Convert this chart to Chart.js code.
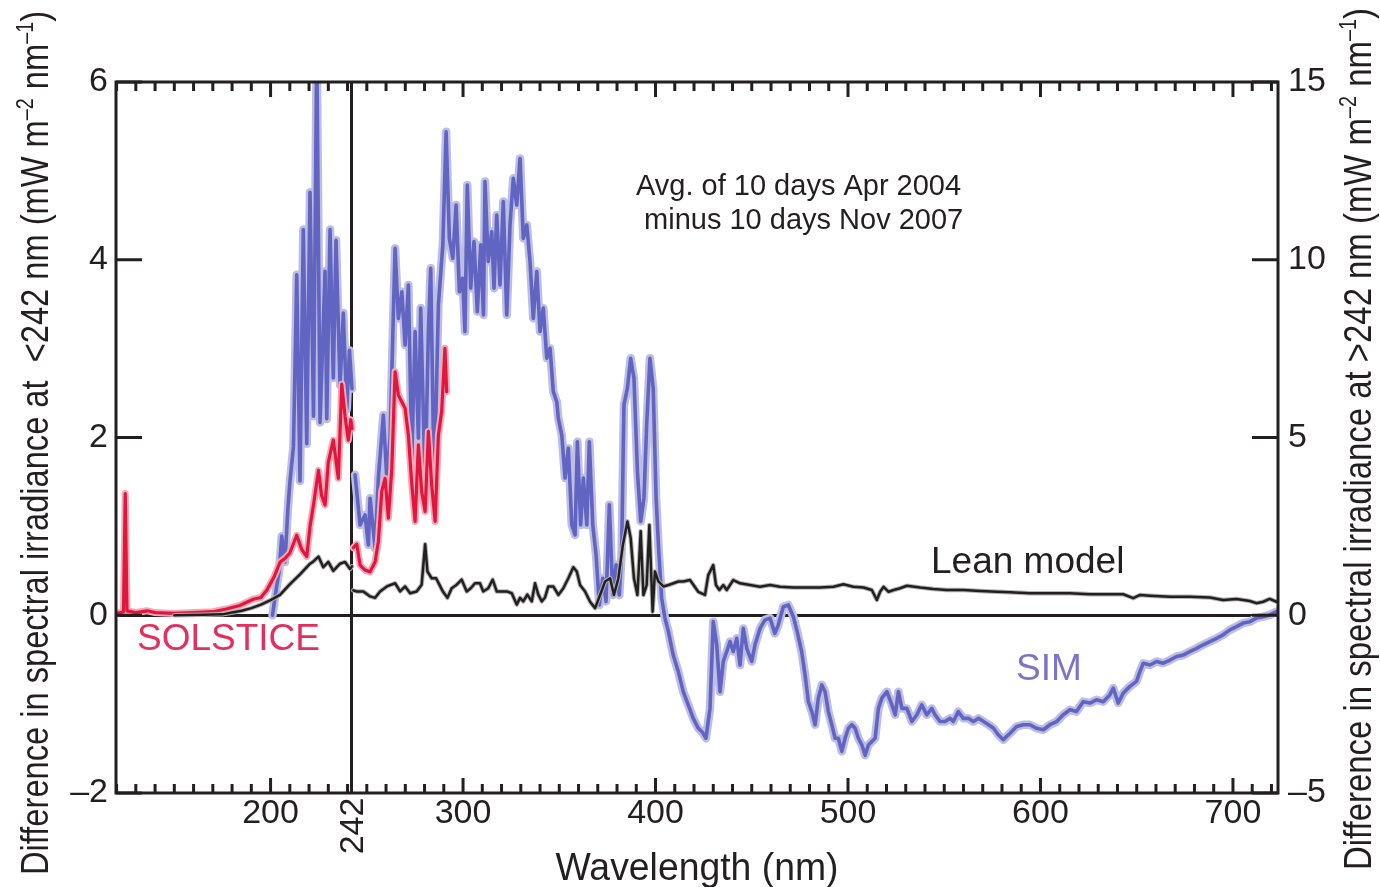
<!DOCTYPE html>
<html>
<head>
<meta charset="utf-8">
<script src="https://cdn.jsdelivr.net/npm/chart.js@4.4.1/dist/chart.umd.min.js"></script>
<style>
  html, body { margin: 0; padding: 0; background: #fff; }
  #wrap { width: 1380px; height: 887px; }
</style>
</head>
<body>
<div id="wrap"><canvas id="chart" width="1380" height="887"></canvas></div>
<script>
/* ============================================
   SORCE spectral irradiance difference, 2004 - 2007
   ============================================ */
const ink = '#231f20';
const FONT = '"Liberation Sans", Arial, Helvetica, sans-serif';

// axes
const xMin = 119.7, xMax = 723.4;
const splitNm = 242;
const xTickLabels = [200, 242, 300, 400, 500, 600, 700];
const yLeftTicks = [-2, 0, 2, 4, 6];
const yRightTicks = [-5, 0, 5, 10, 15];

// below 242 nm (left axis, mW m-2 nm-1)
const solLowNm  = [120, 123.6, 124.5, 125.4, 130, 136, 140, 150, 160, 170, 177, 184, 191, 195, 198, 202, 205, 207.5, 210, 213.6, 216.2, 218.8, 220.5, 222.3, 224.9, 226.5, 228.3, 230, 232.6, 235.2, 237, 238.7, 240.4, 241.7, 242.3];
const solLowVal = [0.02, 0.04, 1.37, 0.05, 0.03, 0.05, 0.03, 0.02, 0.03, 0.04, 0.07, 0.11, 0.18, 0.2, 0.28, 0.44, 0.6, 0.64, 0.7, 0.9, 0.74, 0.66, 1.0, 1.24, 1.63, 1.35, 1.24, 1.72, 1.97, 1.54, 2.6, 2.24, 1.97, 2.2, 2.1];

const simLowNm  = [201, 203, 204.5, 205.8, 207.5, 209, 210.1, 211.9, 213.6, 215.3, 217, 218.8, 220.5, 222.3, 224, 225.7, 227, 228.3, 229.2, 230.9, 232.6, 234, 236.1, 237.8, 239.6, 241, 242.3];
const simLowVal = [0, 0.3, 0.5, 0.89, 0.6, 1.2, 1.51, 1.9, 3.83, 1.51, 4.34, 1.93, 4.76, 2.24, 6.4, 2.17, 3.0, 3.87, 2.21, 4.34, 2.67, 4.22, 2.59, 3.4, 2.32, 2.98, 2.55];

const leanLowNm  = [150, 165, 175, 180, 185, 190, 195, 200, 204.9, 210.1, 215.3, 220.5, 222, 224.9, 227.4, 230, 232.6, 236.1, 238.7, 241.3, 242.3];
const leanLowVal = [0, 0.005, 0.01, 0.03, 0.05, 0.08, 0.12, 0.17, 0.23, 0.35, 0.46, 0.58, 0.6, 0.66, 0.54, 0.6, 0.5, 0.58, 0.6, 0.52, 0.55];

// above 242 nm (right axis, mW m-2 nm-1)
const solHighNm  = [243, 244.8, 246.5, 249.1, 251.7, 254.3, 256, 257.8, 259.5, 261.2, 263, 264.7, 266.4, 268.2, 269.9, 271.6, 273.4, 275.1, 276.8, 278.5, 280.3, 282, 283.7, 285.5, 287.2, 288.9, 290.6, 291.5];
const solHighVal = [1.9, 2.0, 1.41, 1.27, 1.22, 1.5, 2.07, 3.5, 3.85, 2.73, 4.13, 6.85, 6.2, 6.0, 5.82, 5.07, 3.67, 2.64, 4.79, 3.48, 2.92, 5.17, 3.67, 2.64, 5.07, 5.73, 7.51, 6.29];

const simHighNm = [243.9, 246.5, 249.1, 250.8, 251.7, 254.3, 256, 258.6, 260.4, 262.1, 264.7, 266.4, 268.2, 269.9, 271.6, 273.4, 275.1, 276.8, 278, 280.3,
  282, 283.2, 285, 287.2, 289.5, 291.2, 292.9, 294.7, 296.4, 298.1, 299.8, 301, 302.2, 304, 305.7, 307.4, 309.2, 310.6, 311.4, 313.1,
  314.9, 316.1, 317.5, 319.2, 320.9, 322.7, 324.4, 326.1, 327.9, 329.6, 331.3, 333.1, 334.8, 336.5, 338.3, 340, 341.7, 343.5, 345.2, 346.9,
  348.7, 349.5, 351.3, 353, 354.7, 356.5, 358.2, 359.4, 361.1, 362.5, 364.3, 365.6, 367.4, 369.1, 370.8, 372.6, 374.3, 376, 377.8, 379.5,
  381.2, 382.4, 383.6, 385.4, 387.1, 388.8, 390.6, 392.3, 394, 395.4, 397.1, 398.8, 400.3, 401.7, 403.2, 404.9, 406.7, 409.2, 411.8, 414.4,
  417, 419.6, 422.2, 424.5, 426.2, 428.3, 430, 431.8, 433.5, 435.2, 437, 438.7, 440.4, 442.2, 443.9, 445.6, 447.4, 450, 451.7, 454.3,
  456.9, 459.5, 462, 463.8, 466.4, 469, 471.6, 473.6, 475.9, 477.7, 479.4, 481.2, 482.9, 484.6, 486.4, 488.1, 489.8, 491.6, 493.3, 495,
  496.8, 498.5, 500.2, 502, 503.7, 505.4, 507.2, 508.9, 510.6, 512.4, 514.1, 515.8, 517.6, 520.2, 522.8, 524.5, 526.2, 528, 530.6, 533.2,
  535.8, 538.3, 540.9, 543.5, 545.2, 547.8, 550.4, 553, 554.7, 557.3, 559.9, 562.5, 565.1, 567.8, 570.4, 573, 575.6, 578.2, 580.7, 584.2,
  587.6, 591.1, 594.5, 598, 601.5, 604.9, 608.4, 611.8, 615.3, 618.7, 622.2, 625.7, 629.1, 632.6, 636, 637.8, 640.4, 643, 646.5, 649.9,
  651.7, 653.4, 656.9, 660.3, 663.8, 667.3, 670.7, 674.2, 677.6, 681.1, 684.5, 688, 691.5, 694.9, 698.4, 701.8, 705.3, 708.8, 712.2, 715.7,
  719.1, 722.6];
const simHighVal = [3.95, 2.54, 2.82, 1.98, 3.29, 1.88, 3.85, 5.63, 3.85, 4.98, 10.32, 8.35, 9.1, 7.6, 9.29, 4.42, 7.98, 4.98, 8.64, 3.67,
  7.98, 9.76, 3.57, 8.73, 10.42, 13.6, 10.6, 10.04, 11.54, 9.1, 9.48, 7.98, 12.1, 9.2, 10.51, 8.54, 10.42, 8.45, 12.2, 9.95,
  10.79, 9.2, 11.26, 9.29, 11.64, 8.45, 10.98, 12.29, 11.54, 12.85, 10.6, 10.98, 9.95, 8.35, 9.67, 7.98, 8.64, 7.23, 7.51, 6.29,
  6.0, 5.54, 5.07, 3.86, 4.7, 2.54, 2.26, 4.88, 2.54, 3.86, 2.54, 4.88, 2.54, 1.7, 0.29, 1.04, 0.39, 3.11, 0.57, 1.42,
  0.57, 1.79, 5.92, 6.39, 7.23, 6.67, 4.04, 2.64, 3.3, 5.35, 7.23, 6.39, 3.3, 1.79, 0.48, -0.08, -0.46, -1.12, -1.58, -2.15,
  -2.52, -2.9, -3.18, -3.3, -3.46, -2.62, -0.18, -0.83, -2.15, -1.3, -1.02, -0.74, -1.02, -0.65, -1.4, -0.37, -0.93, -1.3, -0.83, -0.37,
  -0.13, -0.08, -0.51, -0.27, 0.24, 0.29, -0.04, -0.46, -1.02, -1.68, -2.43, -2.71, -3.08, -2.33, -1.96, -2.15, -2.71, -3.08, -3.46, -3.46,
  -3.83, -3.46, -3.18, -3.08, -3.18, -3.46, -3.65, -3.94, -3.65, -3.55, -3.46, -2.62, -2.33, -2.15, -2.52, -2.8, -2.15, -2.62, -2.62, -2.99,
  -2.8, -2.52, -2.8, -2.62, -2.8, -2.99, -2.99, -2.9, -2.99, -2.71, -2.9, -2.9, -2.99, -2.9, -2.99, -3.08, -3.18, -3.37, -3.5, -3.32,
  -3.13, -3.08, -3.08, -3.18, -3.22, -3.08, -2.99, -2.8, -2.66, -2.71, -2.43, -2.47, -2.38, -2.43, -2.24, -2.05, -2.47, -2.19, -2.0, -1.86,
  -1.58, -1.35, -1.4, -1.3, -1.35, -1.26, -1.16, -1.12, -1.02, -0.93, -0.83, -0.74, -0.65, -0.55, -0.41, -0.32, -0.22, -0.18, -0.08, -0.04,
  0.01, 0.1];

const leanHighNm = [243, 244.8, 248.2, 251.7, 254.3, 256.9, 260.4, 264.7, 267.3, 269.9, 272.5, 275.9, 278.5, 280.3, 281.5, 283.7, 286, 287.7, 289.5, 291.9,
  294.1, 296.7, 299.3, 301.9, 304, 306.2, 308.8, 310.5, 313.1, 315.4, 317.5, 320.1, 322.7, 325.3, 327.9, 329.6, 331.3, 333.4, 335.7, 337.4,
  339.1, 340.9, 342.6, 344.3, 346.9, 349.5, 352.1, 354.7, 357.3, 359.1, 360.8, 363.4, 366, 368.6, 371.2, 373.8, 376.4, 378.4, 380.7, 383,
  385.4, 387.1, 388.8, 390.6, 392.3, 393.7, 395.4, 396.8, 398.5, 399.7, 401.5, 404.1, 406.7, 409.3, 411.9, 414.4, 417.9, 422.2, 425.7, 427.4,
  430, 431.4, 433.2, 435.2, 437, 440.4, 443.9, 449.1, 454.3, 459.5, 464.7, 471.6, 478.5, 485.5, 492.4, 497.6, 502.8, 508, 512.4, 515,
  516.7, 518.5, 521.1, 523.7, 527.1, 530.6, 537.5, 544.4, 551.4, 560, 568.7, 577.3, 584.2, 594.5, 604.9, 615.3, 625.7, 636, 643, 648.2,
  651.7, 656.9, 667.3, 677.6, 688, 694.9, 701.8, 708.8, 712.2, 715.7, 719.1, 722.6];
const leanHighVal = [0.7, 0.67, 0.67, 0.53, 0.49, 0.67, 0.81, 0.9, 0.67, 0.81, 0.62, 0.67, 0.86, 2.0, 1.23, 1.04, 1.04, 0.86, 0.67, 0.49,
  0.76, 0.86, 1.0, 0.67, 0.76, 0.9, 0.9, 0.67, 0.76, 1.0, 0.67, 0.67, 0.67, 0.62, 0.3, 0.49, 0.39, 0.58, 0.39, 0.9,
  0.58, 0.39, 0.5, 0.81, 0.81, 0.57, 0.76, 1.04, 1.35, 1.23, 0.85, 0.67, 0.38, 0.2, 0.57, 0.95, 1.04, 0.57, 1.04, 1.97,
  2.64, 2.17, 1.04, 0.57, 2.36, 0.57, 0.85, 2.54, 0.1, 1.23, 0.95, 0.81, 0.85, 0.9, 0.95, 0.95, 0.99, 0.66, 0.57, 1.13,
  1.41, 0.85, 0.71, 0.85, 0.71, 0.99, 0.9, 0.85, 0.8, 0.85, 0.8, 0.78, 0.78, 0.78, 0.8, 0.87, 0.8, 0.78, 0.71, 0.43,
  0.66, 0.8, 0.66, 0.71, 0.76, 0.83, 0.78, 0.74, 0.71, 0.71, 0.68, 0.66, 0.65, 0.62, 0.62, 0.62, 0.59, 0.59, 0.59, 0.48,
  0.57, 0.55, 0.52, 0.52, 0.5, 0.43, 0.46, 0.4, 0.34, 0.38, 0.46, 0.38];

const pts = (xs, ys) => xs.map((v, i) => ({ x: v, y: ys[i] }));

function series(label, xs, ys, axis, color, width, order) {
  return {
    label: label,
    data: pts(xs, ys),
    yAxisID: axis,
    borderColor: color,
    borderWidth: width,
    pointRadius: 0,
    tension: 0,
    fill: false,
    borderJoinStyle: 'round',
    borderCapStyle: 'round',
    clip: 0,
    order: order
  };
}

const simDark = '#6264c1', simLight = '#bcbee4';
const solDark = '#e2163c', solLight = '#f2aab8';
const leanDark = '#231f20', leanLight = '#b4b4b4';

// draws rotated / condensed axis titles with superscripts
function drawTitle(ctx, parts, x, y, len, size, rotate) {
  ctx.save();
  ctx.translate(x, y);
  if (rotate) ctx.rotate(-Math.PI / 2);
  const big = size + 'px ' + FONT;
  const small = Math.round(size * 0.6) + 'px ' + FONT;
  let total = 0;
  parts.forEach(p => { ctx.font = p.sup ? small : big; p.w = ctx.measureText(p.t).width; total += p.w; });
  ctx.scale(len / total, 1);
  let cx = -total / 2;
  ctx.textAlign = 'left';
  ctx.textBaseline = 'alphabetic';
  ctx.fillStyle = ink;
  parts.forEach(p => {
    ctx.font = p.sup ? small : big;
    ctx.fillText(p.t, cx, p.sup ? -size * 0.4 : 0);
    cx += p.w;
  });
  ctx.restore();
}

const decor = {
  id: 'decor',
  beforeDatasetsDraw(chart) {
    const { ctx, chartArea: a, scales } = chart;
    ctx.save();
    ctx.strokeStyle = ink;
    ctx.lineWidth = 3;
    const y0 = Math.round(scales.yL.getPixelForValue(0)) + 0.5;
    ctx.beginPath(); ctx.moveTo(a.left, y0); ctx.lineTo(a.right, y0); ctx.stroke();
    const xs = Math.round(scales.x.getPixelForValue(splitNm)) + 0.5;
    ctx.beginPath(); ctx.moveTo(xs, a.top); ctx.lineTo(xs, a.bottom); ctx.stroke();
    ctx.restore();
  },
  afterDatasetsDraw(chart) {
    const { ctx, chartArea: a, scales } = chart;
    ctx.save();
    ctx.strokeStyle = ink;
    ctx.fillStyle = ink;

    // inward ticks
    ctx.lineWidth = 3;
    for (let v = 120; v <= 720; v += 10) {
      const px = scales.x.getPixelForValue(v);
      const len = v % 100 === 0 ? 15 : 9;
      ctx.beginPath();
      ctx.moveTo(px, a.top); ctx.lineTo(px, a.top + len);
      ctx.moveTo(px, a.bottom); ctx.lineTo(px, a.bottom - len);
      ctx.stroke();
    }
    yLeftTicks.forEach(v => {
      const py = scales.yL.getPixelForValue(v);
      ctx.beginPath(); ctx.moveTo(a.left, py); ctx.lineTo(a.left + 26, py); ctx.stroke();
    });
    yRightTicks.forEach(v => {
      const py = scales.yR.getPixelForValue(v);
      ctx.beginPath(); ctx.moveTo(a.right, py); ctx.lineTo(a.right - 26, py); ctx.stroke();
    });
    ctx.lineWidth = 3;
    ctx.strokeRect(a.left, a.top, a.right - a.left, a.bottom - a.top);

    // rotated 242 tick label
    ctx.save();
    ctx.translate(scales.x.getPixelForValue(splitNm) + 12, 826);
    ctx.rotate(-Math.PI / 2);
    ctx.font = '34px ' + FONT;
    ctx.textAlign = 'center';
    ctx.textBaseline = 'alphabetic';
    ctx.fillText(String(splitNm), 0, 0);
    ctx.restore();

    // annotations
    ctx.textBaseline = 'alphabetic';
    ctx.textAlign = 'left';
    ctx.font = '29px ' + FONT;
    ctx.fillText('Avg. of 10 days Apr 2004', 636, 195);
    ctx.fillText(' minus 10 days Nov 2007', 636, 229);
    ctx.font = '37px ' + FONT;
    ctx.fillText('Lean model', 931, 573);
    ctx.fillStyle = '#7d74c8';
    ctx.fillText('SIM', 1016, 680);
    ctx.fillStyle = '#e42e5c';
    ctx.fillText('SOLSTICE', 137, 650);
    ctx.restore();

    // axis titles
    drawTitle(ctx, [
      { t: 'Difference in spectral irradiance at  <242 nm (mW m' }, { t: '–2', sup: true },
      { t: ' nm' }, { t: '–1', sup: true }, { t: ')' }
    ], 48, 443, 864, 38, true);
    drawTitle(ctx, [
      { t: 'Difference in spectral irradiance at >242 nm (mW m' }, { t: '–2', sup: true },
      { t: ' nm' }, { t: '–1', sup: true }, { t: ')' }
    ], 1371, 439, 862, 38, true);
    drawTitle(ctx, [{ t: 'Wavelength (nm)' }], 697, 880, 283, 38, false);
  }
};

const dash = v => (v < 0 ? '–' + Math.abs(v) : String(v));

new Chart(document.getElementById('chart'), {
  type: 'line',
  data: {
    datasets: [
      series('Lean model', leanHighNm, leanHighVal, 'yR', leanDark, 2.5, 0),
      series('Lean model', leanLowNm, leanLowVal, 'yL', leanDark, 2.5, 0),
      series('Lean halo', leanHighNm, leanHighVal, 'yR', leanLight, 4.5, 1),
      series('Lean halo', leanLowNm, leanLowVal, 'yL', leanLight, 4.5, 1),
      series('SOLSTICE', solHighNm, solHighVal, 'yR', solDark, 3.2, 2),
      series('SOLSTICE', solLowNm, solLowVal, 'yL', solDark, 3.2, 2),
      series('SOLSTICE halo', solHighNm, solHighVal, 'yR', solLight, 7, 3),
      series('SOLSTICE halo', solLowNm, solLowVal, 'yL', solLight, 7, 3),
      series('SIM', simHighNm, simHighVal, 'yR', simDark, 3.6, 4),
      series('SIM', simLowNm, simLowVal, 'yL', simDark, 3.6, 4),
      series('SIM halo', simHighNm, simHighVal, 'yR', simLight, 8.5, 5),
      series('SIM halo', simLowNm, simLowVal, 'yL', simLight, 8.5, 5)
    ]
  },
  options: {
    responsive: false,
    animation: false,
    layout: { padding: { left: 0, right: 0, top: 82, bottom: 0 } },
    plugins: { legend: { display: false }, tooltip: { enabled: false } },
    scales: {
      x: {
        type: 'linear',
        position: 'bottom',
        min: xMin,
        max: xMax,
        grid: { display: false, drawTicks: false },
        border: { display: false },
        afterBuildTicks: s => { s.ticks = xTickLabels.map(v => ({ value: v })); },
        afterFit: s => { s.height = 94; },
        ticks: {
          autoSkip: false,
          maxRotation: 0,
          padding: 0,
          color: ink,
          font: { family: FONT, size: 34 },
          callback: v => (v === splitNm ? '' : String(v))
        }
      },
      yL: {
        position: 'left',
        min: -2,
        max: 6,
        grid: { display: false, drawTicks: false },
        border: { display: false },
        afterBuildTicks: s => { s.ticks = yLeftTicks.map(v => ({ value: v })); },
        afterFit: s => { s.width = 116; },
        ticks: { padding: 8, color: ink, font: { family: FONT, size: 34 }, callback: dash }
      },
      yR: {
        position: 'right',
        min: -5,
        max: 15,
        grid: { display: false, drawTicks: false },
        border: { display: false },
        afterBuildTicks: s => { s.ticks = yRightTicks.map(v => ({ value: v })); },
        afterFit: s => { s.width = 102; },
        ticks: { padding: 10, color: ink, font: { family: FONT, size: 34 }, callback: dash }
      }
    }
  },
  plugins: [decor]
});
</script>
</body>
</html>
